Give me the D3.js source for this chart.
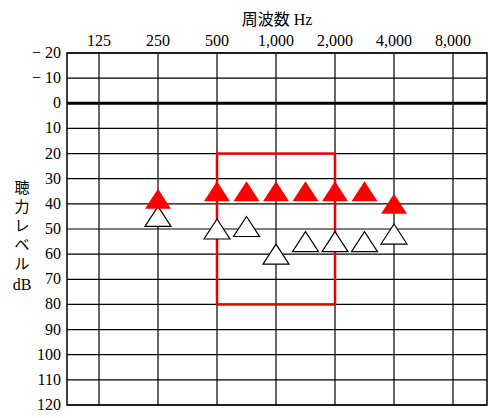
<!DOCTYPE html>
<html><head><meta charset="utf-8">
<script src="https://cdn.jsdelivr.net/npm/d3@7"></script>
<style>body{margin:0;background:#fff}text{font-family:"Liberation Serif","Noto Sans CJK JP",serif;}</style>
</head><body><div id="chart"></div>
<script>
// data
const freqTicks = [125, 250, 500, 1000, 2000, 4000, 8000];
const freqLabels = ["125", "250", "500", "1,000", "2,000", "4,000", "8,000"];
const dbTicks = d3.range(-20, 121, 10);
const boneFreq = [250, 500, 750, 1000, 1500, 2000, 3000, 4000];
const boneDb = [38, 35, 35, 35, 35, 35, 35, 40];
const airFreq = [250, 500, 750, 1000, 1500, 2000, 3000, 4000];
const airDb = [45, 50, 49, 60, 55, 55, 55, 52];
const boxFreq = [500, 2000];
const boxDb = [20, 80];

const svg = d3.select("#chart").append("svg").attr("width", 500).attr("height", 418);

// audiogram: octave index, half-octave frequencies sit midway between octaves
const oct = f => Math.round(Math.log2(f / 125) * 2) / 2;
const xs = d3.scaleLinear().domain([-32 / 59, 6 + 34 / 59]).range([67, 487]);
const x = f => xs(oct(f));
const y = d3.scaleLinear().domain([-20, 120]).range([53, 405]);

// grid
svg.selectAll(".h").data(dbTicks).enter().append("line")
  .attr("x1", 67).attr("x2", 487)
  .attr("y1", d => y(d)).attr("y2", d => y(d))
  .attr("stroke", "#000").attr("stroke-width", d => d === 0 ? 3 : 1.2);
svg.selectAll(".v").data(freqTicks).enter().append("line")
  .attr("y1", 53).attr("y2", 405)
  .attr("x1", d => x(d)).attr("x2", d => x(d))
  .attr("stroke", "#000").attr("stroke-width", 1.2);
svg.append("rect").attr("x", 67).attr("y", 53).attr("width", 420).attr("height", 352)
  .attr("fill", "none").attr("stroke", "#000").attr("stroke-width", 1.5);

// labels
svg.selectAll(".xl").data(freqTicks).enter().append("text")
  .attr("x", d => x(d)).attr("y", 46).attr("text-anchor", "middle")
  .attr("font-size", 16).text((d, i) => freqLabels[i]);
svg.selectAll(".yl").data(dbTicks).enter().append("text")
  .attr("x", 61).attr("y", d => y(d) + 5).attr("text-anchor", "end")
  .attr("font-size", 16).text(d => d < 0 ? "\u2212 " + (-d) : d);
svg.append("text").attr("x", 277).attr("y", 25).attr("text-anchor", "middle")
  .attr("font-size", 16).text("周波数 Hz");
["聴", "力", "レ", "ベ", "ル"].forEach((c, i) =>
  svg.append("text").attr("x", 22).attr("y", 193 + i * 19).attr("text-anchor", "middle")
    .attr("font-size", 15).text(c));
svg.append("text").attr("x", 22).attr("y", 290).attr("text-anchor", "middle")
  .attr("font-size", 16).text("dB");

// red box
svg.append("rect")
  .attr("x", x(boxFreq[0])).attr("y", y(boxDb[0]))
  .attr("width", x(boxFreq[1]) - x(boxFreq[0])).attr("height", y(boxDb[1]) - y(boxDb[0]))
  .attr("fill", "none").attr("stroke", "#e00").attr("stroke-width", 2.5);

// triangles
const tri = "M0,-10L13,10L-13,10Z";
svg.selectAll(".air").data(airFreq).enter().append("path")
  .attr("d", tri).attr("transform", (d, i) => `translate(${x(d)},${y(airDb[i])})`)
  .attr("fill", "#fff").attr("stroke", "#000").attr("stroke-width", 1.2);
svg.selectAll(".bone").data(boneFreq).enter().append("path")
  .attr("d", tri).attr("transform", (d, i) => `translate(${x(d)},${y(boneDb[i])})`)
  .attr("fill", "#f00");
</script></body></html>
